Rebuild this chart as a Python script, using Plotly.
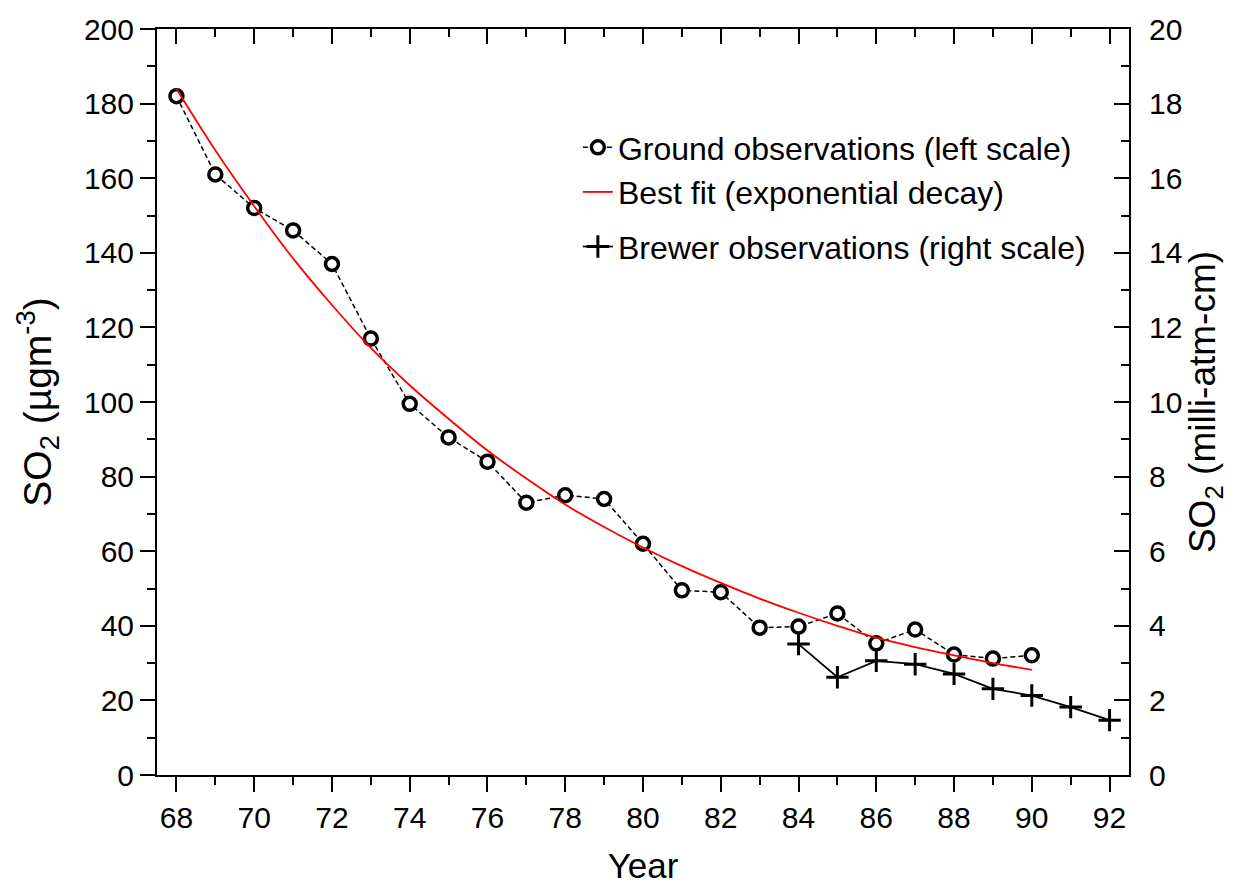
import plotly.graph_objects as go

# ---- data ----
ground_years = [68, 69, 70, 71, 72, 73, 74, 75, 76, 77, 78, 79, 80, 81, 82, 83, 84, 85, 86, 87, 88, 89, 90]
ground_so2 = [182, 161, 152, 146, 137, 117, 99.5, 90.5, 84, 73, 75, 74, 62, 49.5, 49, 39.5, 39.8, 43.3, 35.3, 39, 32.3, 31.2, 32.1]

fit_years = [68, 69, 70, 71, 72, 73, 74, 75, 76, 77, 78, 79, 80, 81, 82, 83, 84, 85, 86, 87, 88, 89, 90]
fit_so2 = [184, 167.5, 152.5, 138.5, 126, 114.5, 104.5, 95.5, 87, 79.5, 72.5, 66.5, 61, 56, 51.5, 47.3, 43.5, 40, 36.8, 34.3, 32.1, 30, 28.2]

brewer_years = [84, 85, 86, 87, 88, 89, 90, 91, 92]
brewer_so2 = [3.51, 2.62, 3.06, 2.97, 2.71, 2.31, 2.13, 1.82, 1.47]

x_range = [67.5, 92.5]
left_range = [0, 200]
right_range = [0, 20]

FONT = "Liberation Sans, Arial, sans-serif"

fig = go.Figure()

fig.add_trace(go.Scatter(
    x=ground_years, y=ground_so2, mode="lines+markers",
    name="Ground observations (left scale)",
    line=dict(color="black", width=1.5, dash="5px,3px"),
    marker=dict(symbol="circle", size=13, color="white", line=dict(color="black", width=3.5)),
    legendgroup="a", xaxis="x", yaxis="y",
))
fig.add_trace(go.Scatter(
    x=fit_years, y=fit_so2, mode="lines",
    name="Best fit (exponential decay)",
    line=dict(color="#ff0000", width=1.8, shape="spline"),
    legendgroup="a", xaxis="x", yaxis="y",
))
fig.add_trace(go.Scatter(
    x=brewer_years, y=brewer_so2, mode="lines+markers",
    name="Brewer observations (right scale)",
    line=dict(color="black", width=1.8),
    marker=dict(symbol="cross-thin", size=16, color="black", line=dict(color="black", width=3)),
    legendgroup="b", xaxis="x2", yaxis="y2",
))

axis_common = dict(showline=True, linecolor="black", linewidth=2, showgrid=False, zeroline=False,
                   tickcolor="black", tickwidth=2, ticklen=15,
                   tickfont=dict(family=FONT, size=30, color="black"))

fig.update_layout(
    width=1235, height=891,
    margin=dict(l=157, r=106, t=24, b=114),
    paper_bgcolor="white", plot_bgcolor="white",
    font=dict(family=FONT, color="black"),
    showlegend=True,
    legend=dict(x=0.433, y=0.878, xanchor="left", yanchor="top",
                bgcolor="rgba(0,0,0,0)", font=dict(family=FONT, size=32, color="black"),
                traceorder="grouped", tracegroupgap=10),
    xaxis=dict(**axis_common, range=x_range, tick0=68, dtick=2, ticks="outside",
               minor=dict(dtick=1, tick0=68, ticks="outside", ticklen=8, tickcolor="black", tickwidth=2),
               title=dict(text="Year", font=dict(family=FONT, size=35, color="black"), standoff=20)),
    xaxis2=dict(**axis_common, range=x_range, tick0=68, dtick=2, ticks="inside",
                minor=dict(dtick=1, tick0=68, ticks="inside", ticklen=8, tickcolor="black", tickwidth=2),
                overlaying="x", side="top", anchor="y2", showticklabels=False),
    yaxis=dict(**axis_common, range=left_range, dtick=20, ticks="outside",
               minor=dict(dtick=10, ticks="outside", ticklen=8, tickcolor="black", tickwidth=2),
               title=dict(text="SO<sub>2</sub> (\u00b5gm<sup>-3</sup>)",
                          font=dict(family=FONT, size=39, color="black"), standoff=20)),
    yaxis2=dict(**axis_common, range=right_range, dtick=2, ticks="inside",
                minor=dict(dtick=1, ticks="inside", ticklen=8, tickcolor="black", tickwidth=2),
                overlaying="y", side="right", anchor="x2", ticklabelstandoff=12,
                title=dict(text="SO<sub>2</sub> (milli-atm-cm)",
                           font=dict(family=FONT, size=37, color="black"), standoff=8)),
)

fig.write_html("out.html")
